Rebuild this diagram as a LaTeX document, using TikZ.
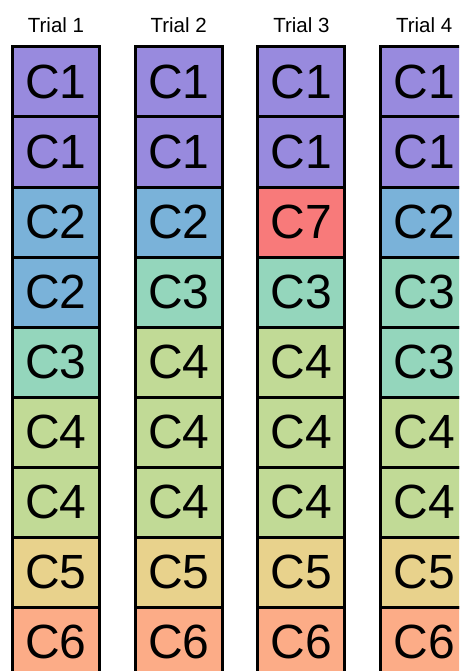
\documentclass[tikz,border=0pt]{standalone}
\usepackage{fontspec}
\setmainfont{Liberation Sans}
\definecolor{cA}{RGB}{152,138,222}
\definecolor{cB}{RGB}{122,178,217}
\definecolor{cC}{RGB}{148,214,188}
\definecolor{cD}{RGB}{193,218,150}
\definecolor{cE}{RGB}{232,210,140}
\definecolor{cF}{RGB}{252,172,135}
\definecolor{cG}{RGB}{248,122,122}
\tikzset{
  cell/.style={draw=black, line width=3pt, minimum width=87pt, minimum height=70pt,
    inner sep=0pt, anchor=center, font=\fontsize{48}{48}\selectfont},
  trial/.style={inner sep=0pt, anchor=center, font=\fontsize{20.5}{21}\selectfont}
}
\begin{document}
\begin{tikzpicture}[x=1pt,y=-1pt]
\useasboundingbox (0,0) rectangle (459,671);
\clip (0,0) rectangle (459,671);
\fill[white] (0,0) rectangle (459,671);
\foreach \col/\lst in {1/{A/1,A/1,B/2,B/2,C/3,D/4,D/4,E/5,F/6},
                       2/{A/1,A/1,B/2,C/3,D/4,D/4,D/4,E/5,F/6},
                       3/{A/1,A/1,G/7,C/3,D/4,D/4,D/4,E/5,F/6},
                       4/{A/1,A/1,B/2,C/3,C/3,D/4,D/4,E/5,F/6}} {
  \pgfmathsetmacro{\cx}{12.5+122.7*(\col-1)+43.5}
  \node[trial] (t\col) at (\cx,25) {Trial \col};
  \foreach \c/\n [count=\r from 0] in \lst {
    \node[cell, fill=c\c] (c\col-\r) at (\cx,{47+70*\r+35}) {C\n};
  }
}
\end{tikzpicture}
\end{document}
